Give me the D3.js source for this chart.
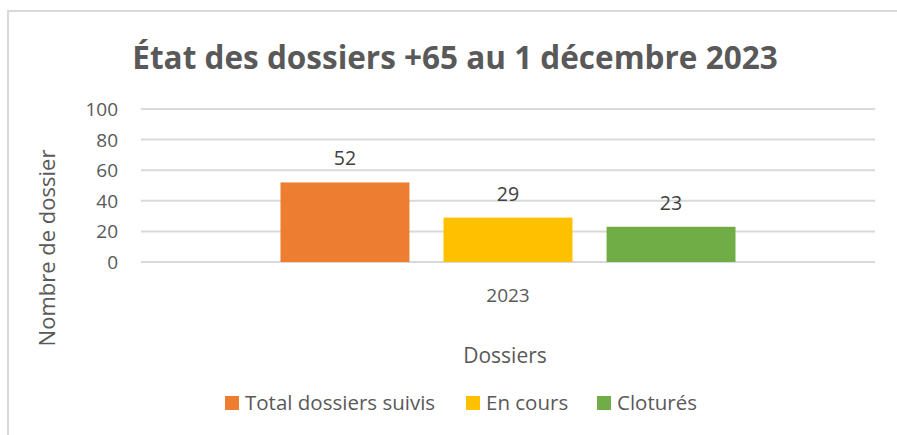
<!DOCTYPE html>
<html lang="fr">
<head>
<meta charset="UTF-8">
<title>État des dossiers +65</title>
<script src="https://d3js.org/d3.v7.min.js"></script>
<style>
  body { margin: 0; background: #fff; }
  svg text { font-family: "Open Sans", sans-serif; fill: #595959; }
  .grid line { stroke: #d9d9d9; stroke-width: 2; }
</style>
</head>
<body>
<div id="chart"></div>
<script>
const categories = ["2023"];
const seriesNames = ["Total dossiers suivis", "En cours", "Cloturés"];
const seriesValues = [52, 29, 23];
const seriesColors = ["#ed7d31", "#ffc000", "#70ad47"];
const yTicks = [0, 20, 40, 60, 80, 100];

const width = 897, height = 435;
const plot = { left: 141, right: 875, top: 109, bottom: 262 };

const svg = d3.select("#chart").append("svg")
    .attr("width", width)
    .attr("height", height);

// chart frame
svg.append("rect")
    .attr("x", 8).attr("y", 11)
    .attr("width", 920).attr("height", 440)
    .attr("fill", "#fff")
    .attr("stroke", "#d9d9d9")
    .attr("stroke-width", 2);

const y = d3.scaleLinear().domain([0, 100]).range([plot.bottom, plot.top]);
const x0 = d3.scaleBand().domain(categories)
    .range([plot.left, plot.right])
    .paddingOuter(0.3066).paddingInner(0);
const x1 = d3.scaleBand().domain(seriesNames)
    .range([0, x0.bandwidth()])
    .paddingInner(0.209).paddingOuter(0);

// gridlines
svg.append("g").attr("class", "grid")
    .selectAll("line").data(yTicks).join("line")
    .attr("x1", plot.left).attr("x2", plot.right)
    .attr("y1", d => y(d)).attr("y2", d => y(d));

// y tick labels
svg.append("g")
    .selectAll("text").data(yTicks).join("text")
    .attr("x", 118).attr("y", d => y(d) + 7)
    .attr("text-anchor", "end")
    .attr("font-size", 19)
    .text(d => d);

// bars
const grp = svg.append("g")
    .selectAll("g").data(categories).join("g")
    .attr("transform", d => `translate(${x0(d)},0)`);

grp.selectAll("rect").data(seriesNames.map((s, i) => ({ s, v: seriesValues[i], c: seriesColors[i] })))
    .join("rect")
    .attr("x", d => x1(d.s))
    .attr("width", x1.bandwidth())
    .attr("y", d => y(d.v))
    .attr("height", d => y(0) - y(d.v))
    .attr("fill", d => d.c);

grp.selectAll("text").data(seriesNames.map((s, i) => ({ s, v: seriesValues[i] })))
    .join("text")
    .attr("x", d => x1(d.s) + x1.bandwidth() / 2)
    .attr("y", d => y(d.v) - 17)
    .attr("text-anchor", "middle")
    .attr("font-size", 19.5)
    .style("fill", "#404040")
    .text(d => d.v);

// category label
svg.append("text")
    .attr("x", x0(categories[0]) + x0.bandwidth() / 2)
    .attr("y", 302)
    .attr("text-anchor", "middle")
    .attr("font-size", 19)
    .text(categories[0]);

// title
svg.append("text")
    .attr("x", 455).attr("y", 69)
    .attr("text-anchor", "middle")
    .attr("font-size", 31.5)
    .attr("font-weight", "bold")
    .text("État des dossiers +65 au 1 décembre 2023");

// axis titles
svg.append("text")
    .attr("transform", "translate(55,248) rotate(-90)")
    .attr("text-anchor", "middle")
    .attr("font-size", 22)
    .text("Nombre de dossier");

svg.append("text")
    .attr("x", 505).attr("y", 363)
    .attr("text-anchor", "middle")
    .attr("font-size", 21)
    .text("Dossiers");

// legend
const legendX = [225, 466, 597];
const legend = svg.append("g")
    .selectAll("g").data(seriesNames).join("g")
    .attr("transform", (d, i) => `translate(${legendX[i]},396)`);
legend.append("rect")
    .attr("width", 14).attr("height", 14)
    .attr("fill", (d, i) => seriesColors[i]);
legend.append("text")
    .attr("x", 20).attr("y", 14)
    .attr("font-size", 20.5)
    .text(d => d);
</script>
</body>
</html>
